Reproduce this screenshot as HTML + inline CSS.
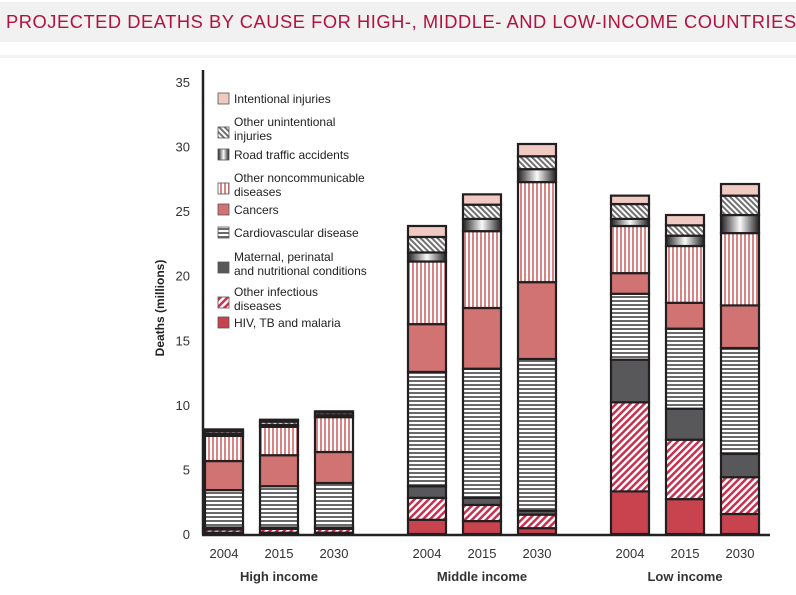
<!DOCTYPE html>
<html><head><meta charset="utf-8"><style>
body{margin:0;background:#fff;font-family:"Liberation Sans",sans-serif;}
#wrap{position:relative;width:796px;height:595px;overflow:hidden}
#title{position:absolute;left:0;top:2px;width:796px;height:40px;background:#f1f1f1;color:#b3123f;font-size:18.3px;line-height:40px;padding-left:6px;box-sizing:border-box;letter-spacing:0.55px;white-space:nowrap}
#band{position:absolute;left:0;top:55px;width:796px;height:3px;background:#f3f3f3}
</style></head><body>
<div id="wrap">
<div id="title">PROJECTED DEATHS BY CAUSE FOR HIGH-, MIDDLE- AND LOW-INCOME COUNTRIES</div>
<div id="band"></div>
<svg id="chart" width="796" height="595" style="position:absolute;left:0;top:0">
<defs>
<pattern id="p-cvd" width="4" height="4" patternUnits="userSpaceOnUse"><rect width="4" height="4" fill="#fff"/><rect y="0" width="4" height="2" fill="#6a6a6a"/></pattern>
<pattern id="p-ncd" width="4" height="4" patternUnits="userSpaceOnUse"><rect width="4" height="4" fill="#fff"/><rect x="0" width="2" height="4" fill="#d98484"/></pattern>
<pattern id="p-oi" width="5" height="5" patternUnits="userSpaceOnUse" patternTransform="rotate(45)"><rect width="5" height="5" fill="#fff"/><rect width="2.5" height="5" fill="#c8304f"/></pattern>
<pattern id="p-ou" width="4" height="4" patternUnits="userSpaceOnUse" patternTransform="rotate(-45)"><rect width="4" height="4" fill="#fff"/><rect width="2" height="4" fill="#707070"/></pattern>
<linearGradient id="g-road" x1="0" x2="1" y1="0" y2="0"><stop offset="0" stop-color="#222"/><stop offset="0.5" stop-color="#fafafa"/><stop offset="1" stop-color="#222"/></linearGradient>
</defs>
<g id="g"></g>
</svg>
</div>
<script>
const groups=["High income","Middle income","Low income"];
const years=["2004","2015","2030","2004","2015","2030","2004","2015","2030"];
const causes=["HIV, TB and malaria","Other infectious diseases","Maternal, perinatal and nutritional conditions","Cardiovascular disease","Cancers","Other noncommunicable diseases","Road traffic accidents","Other unintentional injuries","Intentional injuries"];
const hiv=[0.1,0.1,0.1,1.1,1.0,0.45,3.3,2.7,1.55];
const otherInf=[0.25,0.3,0.3,1.7,1.25,1.05,6.9,4.6,2.85];
const maternal=[0.15,0.1,0.1,0.9,0.55,0.3,3.3,2.4,1.8];
const cardio=[2.9,3.2,3.45,8.85,10.0,11.75,5.1,6.2,8.2];
const cancers=[2.25,2.4,2.4,3.7,4.7,5.95,1.6,2.0,3.3];
const otherNcd=[1.95,2.2,2.7,4.85,5.95,7.75,3.65,4.4,5.6];
const road=[0.15,0.15,0.15,0.7,0.95,1.0,0.55,0.8,1.4];
const otherUnint=[0.2,0.25,0.2,1.2,1.1,1.0,1.15,0.8,1.5];
const intentional=[0.15,0.15,0.1,0.85,0.8,0.95,0.65,0.8,0.9];
const yTicks=[0,5,10,15,20,25,30,35];
const series=[hiv,otherInf,maternal,cardio,cancers,otherNcd,road,otherUnint,intentional];
const fills=["#c8434e","url(#p-oi)","#58585a","url(#p-cvd)","#d27373","url(#p-ncd)","url(#g-road)","url(#p-ou)","#f0c9c2"];
const names=["hiv","other-infectious","maternal","cardiovascular","cancers","other-noncommunicable","road-traffic","other-unintentional","intentional"];
const NS="http://www.w3.org/2000/svg";
const g=document.getElementById('g');
const y0=534,yTop=82,vmax=35;
const yS=v=>y0-(v/vmax)*(y0-yTop);
const xS=i=>205+Math.floor(i/3)*203+(i%3)*55;
const bw=38;
function mk(t,a){const e=document.createElementNS(NS,t);for(const k in a)e.setAttribute(k,a[k]);g.appendChild(e);return e;}
let e=mk('line',{x1:203,y1:70,x2:203,y2:535,stroke:'#222','stroke-width':2.5});


e=mk('line',{x1:202,y1:535,x2:770,y2:535,stroke:'#222','stroke-width':2.5});


yTicks.forEach(t=>{const tx=mk('text',{x:190,y:yS(t)+5,'text-anchor':'end','font-size':13,fill:'#333'});tx.textContent=t;

});
e=mk('text',{x:0,y:0,transform:'translate(164,308) rotate(-90)','text-anchor':'middle','font-size':12,'font-weight':'bold',fill:'#222'});e.textContent='Deaths (millions)';


years.forEach((yr,i)=>{
  let cum=0;const x=xS(i);
  series.forEach((s,k)=>{const v=s[i];const r=mk('rect',{x:x,y:yS(cum+v),width:bw,height:yS(cum)-yS(cum+v),fill:fills[k],stroke:'#231f20','stroke-width':2.2});
    
    
    cum+=v;});
  const t=mk('text',{x:x+bw/2,y:558,'text-anchor':'middle','font-size':13,fill:'#333'});t.textContent=yr;
  
  
});
groups.forEach((gn,j)=>{const t=mk('text',{x:xS(j*3+1)+bw/2,y:581,'text-anchor':'middle','font-size':13,'font-weight':'bold',fill:'#333'});t.textContent=gn;
  
  });
const leg=[["Intentional injuries"],["Other unintentional","injuries"],["Road traffic accidents"],["Other noncommunicable","diseases"],["Cancers"],["Cardiovascular disease"],["Maternal, perinatal","and nutritional conditions"],["Other infectious","diseases"],["HIV, TB and malaria"]];
const legY=[99,125,155,181,210,233,260,295,323];
leg.forEach((l,j)=>{const k=8-j;const cy=legY[j];const sy=l.length>1?cy+2:cy-6;
  const r=mk('rect',{x:218,y:sy,width:11,height:11,fill:fills[k],stroke:'#555','stroke-width':0.8});
  
  
  const t=mk('text',{x:234,y:cy+4,'font-size':12,fill:'#222'});
  
  
  l.forEach((ln,m)=>{const ts=document.createElementNS(NS,'tspan');ts.setAttribute('x',234);ts.setAttribute('dy',m?14:(l.length>1?-3:0));ts.textContent=ln;t.appendChild(ts);});
});
</script>
</body></html>
